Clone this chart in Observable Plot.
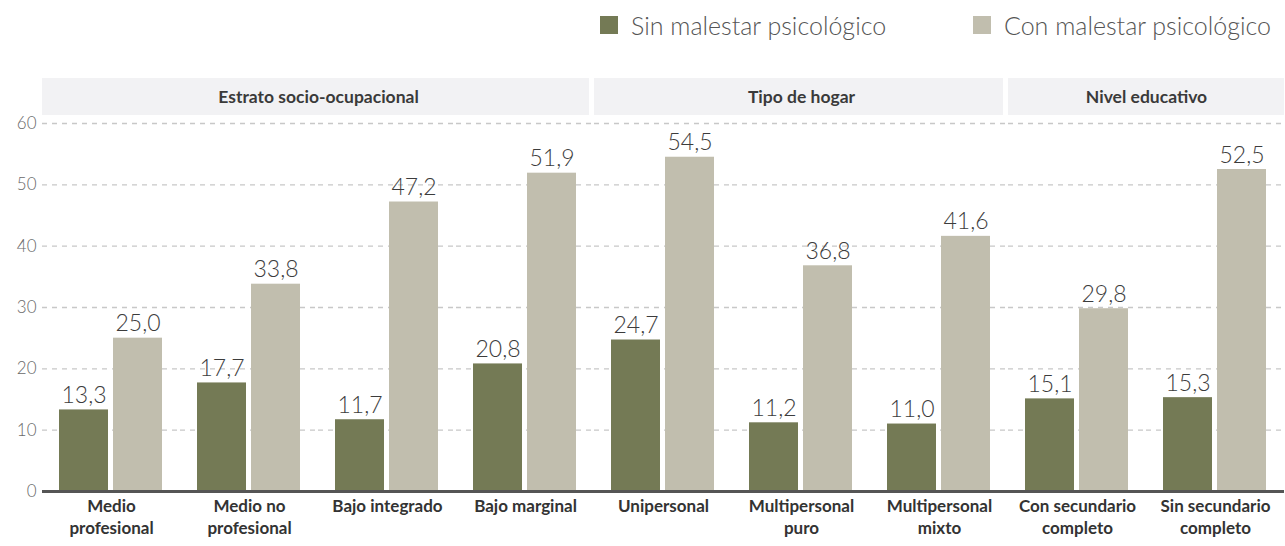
<!DOCTYPE html>
<html>
<head>
<meta charset="utf-8">
<script src="https://cdn.jsdelivr.net/npm/d3@7"></script>
<script src="https://cdn.jsdelivr.net/npm/@observablehq/plot@0.6"></script>
<style>
  html, body { margin: 0; padding: 0; background: #fff; }
  body { width: 1285px; height: 546px; overflow: hidden; font-family: Lato, "Noto Sans", sans-serif; }
  #legend { position: relative; height: 55px; }
  .item { position: absolute; top: 10px; height: 30px; display: flex; align-items: center; font-size: 25px; font-weight: 300; color: #555; white-space: nowrap; }
  .sw { width: 18px; height: 18px; margin-right: 13px; }
  #chart svg { display: block; }
</style>
</head>
<body>
<div id="legend"></div>
<div id="chart"></div>
<script>
// ---- data ----
const categories = ["Medio profesional", "Medio no profesional", "Bajo integrado", "Bajo marginal",
  "Unipersonal", "Multipersonal puro", "Multipersonal mixto",
  "Con secundario completo", "Sin secundario completo"];
const tickLabels = ["Medio\nprofesional", "Medio no\nprofesional", "Bajo integrado", "Bajo marginal",
  "Unipersonal", "Multipersonal\npuro", "Multipersonal\nmixto",
  "Con secundario\ncompleto", "Sin secundario\ncompleto"];
const categoryGroup = ["Estrato socio-ocupacional", "Estrato socio-ocupacional", "Estrato socio-ocupacional", "Estrato socio-ocupacional",
  "Tipo de hogar", "Tipo de hogar", "Tipo de hogar",
  "Nivel educativo", "Nivel educativo"];
const groups = ["Estrato socio-ocupacional", "Tipo de hogar", "Nivel educativo"];
const series = ["Sin malestar psicológico", "Con malestar psicológico"];
const sinMalestar = [13.3, 17.7, 11.7, 20.8, 24.7, 11.2, 11.0, 15.1, 15.3];
const conMalestar = [25.0, 33.8, 47.2, 51.9, 54.5, 36.8, 41.6, 29.8, 52.5];
const colors = ["#747a55", "#c1beae"];

// ---- table ----
const rows = [];
categories.forEach((c, i) => {
  rows.push({cat: c, series: series[0], value: sinMalestar[i]});
  rows.push({cat: c, series: series[1], value: conMalestar[i]});
});
const labelOf = new Map(categories.map((c, i) => [c, tickLabels[i]]));
const fmt = v => v.toFixed(1).replace(".", ",");

// header segments (one per category, grouped)
const cats = categories.map((c, i) => ({cat: c, group: categoryGroup[i], i}));
const lastOfGroup = cats.filter((d, k) => k < cats.length - 1 && cats[k + 1].group !== d.group);
const others = cats.filter(d => !lastOfGroup.includes(d));
// group titles anchored at middle of each group
const titlesCenter = [], titlesEdge = [];
groups.forEach(g => {
  const cs = cats.filter(d => d.group === g);
  const n = cs.length;
  if (n % 2 === 0) titlesEdge.push({cat: cs[n / 2 - 1].cat, group: g});
  else titlesCenter.push({cat: cs[(n - 1) / 2].cat, group: g});
});

// ---- legend ----
const legend = document.getElementById("legend");
const legendX = [600, 973];
series.forEach((s, i) => {
  const el = document.createElement("div");
  el.className = "item";
  el.style.left = legendX[i] + "px";
  el.innerHTML = `<span class="sw" style="background:${colors[i]}"></span><span>${s}</span>`;
  legend.appendChild(el);
});

// ---- chart ----
const width = 1285, height = 491, marginTop = 68, marginBottom = 55, marginLeft = 40, marginRight = 0;
const plotH = height - marginTop - marginBottom;
const headerTop = 23, headerBottom = 60;
const labelFont = "Lato, 'Noto Sans', sans-serif";

const chart = Plot.plot({
  width, height, marginTop, marginBottom, marginLeft, marginRight,
  style: {fontFamily: labelFont, background: "#fff"},
  fx: {domain: categories, padding: 0, label: null},
  x: {domain: series, paddingInner: 0.09, paddingOuter: 0.3, axis: null},
  y: {domain: [0, 60], ticks: [0, 10, 20, 30, 40, 50, 60], label: null},
  color: {domain: series, range: colors},
  marks: [
    Plot.gridY({ticks: [10, 20, 30, 40, 50, 60], stroke: "#c8c8c8", strokeOpacity: 1, strokeDasharray: "5,5", strokeWidth: 1.3}),
    Plot.axisY({ticks: [0, 10, 20, 30, 40, 50, 60], tickSize: 0, tickPadding: 6, fontSize: 17, fontWeight: 300, fill: "#6a6a6a", label: null}),
    Plot.axisFx({anchor: "bottom", tickSize: 0, tickPadding: 5, fontSize: 17, fontWeight: 700, fill: "#333",
      lineHeight: 1.3, lineAnchor: "top", tickFormat: d => labelOf.get(d), label: null}),
    Plot.rect(others, {fx: "cat", fill: "#f2f2f4", insetTop: -(marginTop - headerTop), insetBottom: plotH + (marginTop - headerBottom)}),
    Plot.rect(lastOfGroup, {fx: "cat", fill: "#f2f2f4", insetRight: 5, insetTop: -(marginTop - headerTop), insetBottom: plotH + (marginTop - headerBottom)}),
    Plot.text(titlesCenter, {fx: "cat", text: "group", frameAnchor: "top", dy: (headerTop + headerBottom) / 2 - marginTop,
      lineAnchor: "middle", fontSize: 17.5, fontWeight: 700, fill: "#3a3a3a"}),
    Plot.text(titlesEdge, {fx: "cat", text: "group", frameAnchor: "top-right", textAnchor: "middle", dy: (headerTop + headerBottom) / 2 - marginTop,
      lineAnchor: "middle", fontSize: 17.5, fontWeight: 700, fill: "#3a3a3a"}),
    Plot.barY(rows, {fx: "cat", x: "series", y: "value", fill: "series"}),
    Plot.text(rows, {fx: "cat", x: "series", y: "value", text: d => fmt(d.value), lineAnchor: "bottom", dy: -7,
      fontSize: 23, fontWeight: 300, fill: "#3c3c3c"}),
    Plot.ruleY([0], {stroke: "#555", strokeWidth: 3})
  ]
});
document.getElementById("chart").appendChild(chart);
</script>
</body>
</html>
